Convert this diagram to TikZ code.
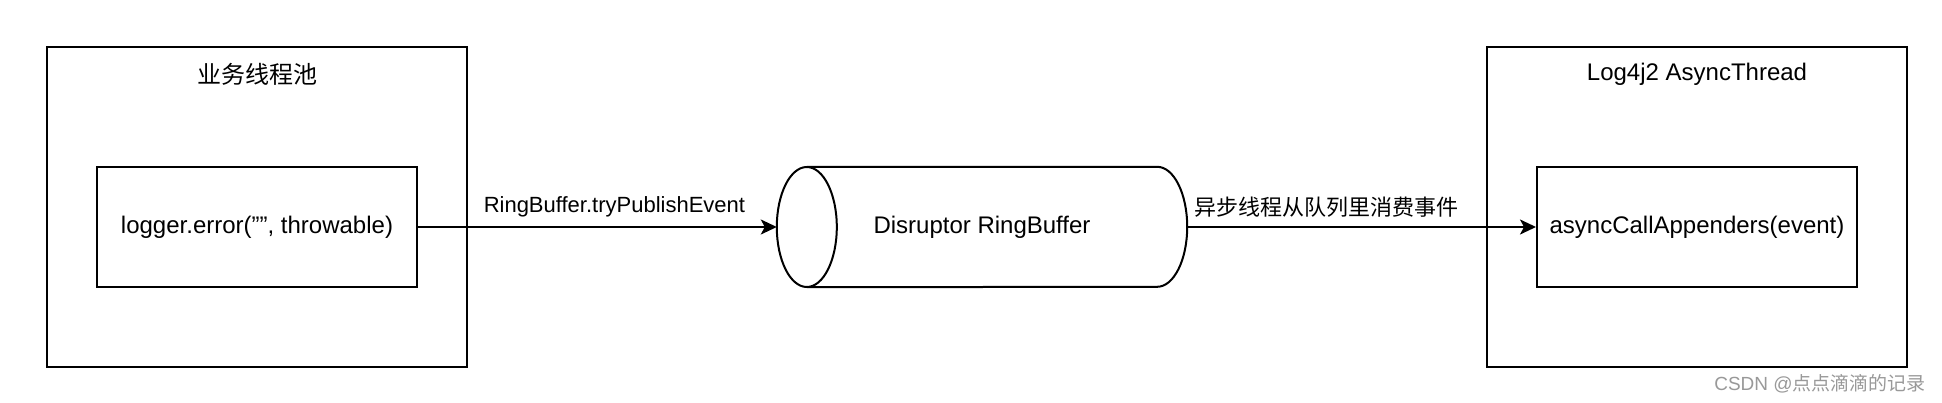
\documentclass[tikz,border=0pt]{standalone}
\usepackage{fontspec}
\setmainfont{Liberation Sans}
\newfontfamily\cjk{Noto Sans CJK SC}
\usetikzlibrary{arrows.meta,calc}
\tikzset{
  frame/.style={draw=black, line width=2pt, inner sep=0pt, fill=white},
  lbltxt/.style={font=\fontsize{24}{28}\selectfont, inner sep=0pt},
  edgelbl/.style={font=\fontsize{22}{26}\selectfont, inner sep=0pt, fill=none},
  conn/.style={line width=2pt, -{Stealth[length=16pt,width=15pt,inset=4pt]}},
}
\begin{document}
\begin{tikzpicture}[x=1pt,y=1pt]
\useasboundingbox[fill=white] (0,0) rectangle (1942,402);
% left pool
\node[frame, minimum width=420pt, minimum height=320pt] (pool) at (257,195) {};
\node[lbltxt] (pooltitle) at (257,328) {\cjk 业务线程池};
\node[frame, minimum width=320pt, minimum height=120pt, lbltxt] (logger) at (257,175) {logger.error(\symbol{34}\symbol{34}, throwable)};
% right async thread
\node[frame, minimum width=420pt, minimum height=320pt] (async) at (1697,195) {};
\node[lbltxt] (asynctitle) at (1697,328) {Log4j2 AsyncThread};
\node[frame, minimum width=320pt, minimum height=120pt, lbltxt] (appenders) at (1697,175) {asyncCallAppenders(event)};
% cylinder
\node[minimum width=410pt, minimum height=120pt, inner sep=0pt] (cyl) at (982,175) {};
\draw[line width=2pt, fill=white]
  ($(cyl.north west)+(30,0)$) -- ($(cyl.north east)+(-30,0)$)
  arc[start angle=90, end angle=-90, x radius=30, y radius=60]
  -- ($(cyl.south west)+(30,0)$);
\draw[line width=2pt, fill=white] ($(cyl.west)+(30,0)$) ellipse[x radius=30, y radius=60];
\node[lbltxt] (cyltext) at (cyl.center) {Disruptor RingBuffer};
% connectors
\draw[conn] (logger.east) -- node[edgelbl, pos=0.5, xshift=17pt, yshift=20pt] (lbla) {RingBuffer.tryPublishEvent} (cyl.west);
\draw[conn] (cyl.east) -- node[edgelbl, pos=0.5, xshift=-35pt, yshift=20pt] (lblb) {\cjk 异步线程从队列里消费事件} (appenders.west);
% watermark
\node[font=\fontsize{19}{22}\selectfont, text=black!40, inner sep=0pt] (wm) at (1820,18) {CSDN @{\cjk 点点滴滴的记录}};
\end{tikzpicture}
\end{document}
